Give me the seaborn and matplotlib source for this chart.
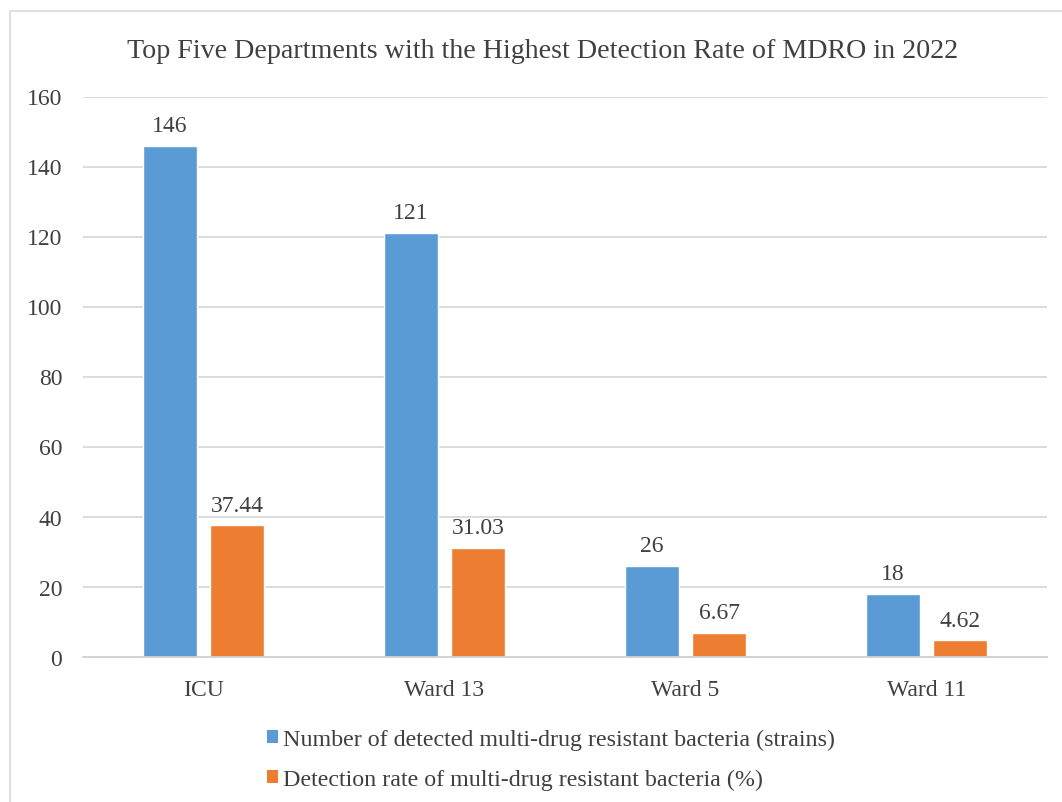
import matplotlib
matplotlib.use("Agg")
import matplotlib.pyplot as plt
import seaborn as sns
import pandas as pd
from matplotlib.patches import Rectangle, Patch

categories = ["ICU", "Ward 13", "Ward 5", "Ward 11"]
series_names = ["Number of detected multi-drug resistant bacteria (strains)",
                "Detection rate of multi-drug resistant bacteria (%)"]
counts = [146, 121, 26, 18]
rates = [37.44, 31.03, 6.67, 4.62]
count_labels = ["146", "121", "26", "18"]
rate_labels = ["37.44", "31.03", "6.67", "4.62"]
yticks = [0, 20, 40, 60, 80, 100, 120, 140, 160]

colors = ["#5B9BD5", "#ED7D31"]
text_color = "#404040"

df = pd.DataFrame({
    "Department": categories * 2,
    "Series": [series_names[0]] * 4 + [series_names[1]] * 4,
    "Value": counts + rates,
})

sns.set_theme(style="white")
plt.rcParams["font.family"] = ["Liberation Serif", "DejaVu Serif"]

W, H = 1062, 803
fig = plt.figure(figsize=(W / 100, H / 100), dpi=100)
ax = fig.add_axes([83 / W, 1 - 657.5 / H, (1047 - 83) / W, (657.5 - 97.5) / H])

sns.barplot(data=df, x="Department", y="Value", hue="Series", order=categories,
            hue_order=series_names, palette=colors, width=0.561, gap=0.20,
            saturation=1, ax=ax, legend=False, errorbar=None)

ax.set_ylim(0, 160)
ax.set_xlim(-0.5, 3.5)
ax.set_yticks(yticks)
ax.set_yticklabels([str(t) for t in yticks])
ax.yaxis.grid(True, color="#D9D9D9", linewidth=1.3)
ax.set_axisbelow(True)
for s in ["top", "right", "left"]:
    ax.spines[s].set_visible(False)
ax.spines["bottom"].set_color("#D0D0D0")
ax.spines["bottom"].set_linewidth(1.3)
ax.tick_params(axis="both", length=0, labelsize=17, colors=text_color)
ax.tick_params(axis="x", pad=16)
ax.tick_params(axis="y", pad=15)
ax.set_xlabel("")
ax.set_ylabel("")

labels_all = [count_labels, rate_labels]
for container, labs in zip(ax.containers, labels_all):
    ax.bar_label(container, labels=labs, padding=7, fontsize=17, color=text_color)

fig.text(542.5 / W, 1 - 52 / H, "Top Five Departments with the Highest Detection Rate of MDRO in 2022",
         ha="center", va="center", fontsize=20.2, color=text_color)

handles = [Patch(facecolor=c, edgecolor="none") for c in colors]
fig.legend(handles, series_names, loc="upper left", bbox_to_anchor=(257 / W, 1 - 720 / H),
           frameon=False, ncol=1, fontsize=17.3, handlelength=0.47, handleheight=0.47,
           handletextpad=0.2, labelspacing=0.8, labelcolor=text_color, borderaxespad=0)

fig.patches.append(Rectangle((10 / W, -0.05), 1.1, 1 - 12 / H + 0.05, transform=fig.transFigure,
                             fill=False, edgecolor="#D9D9D9", linewidth=1.2))

fig.savefig("out.png", dpi=100, facecolor="white")
